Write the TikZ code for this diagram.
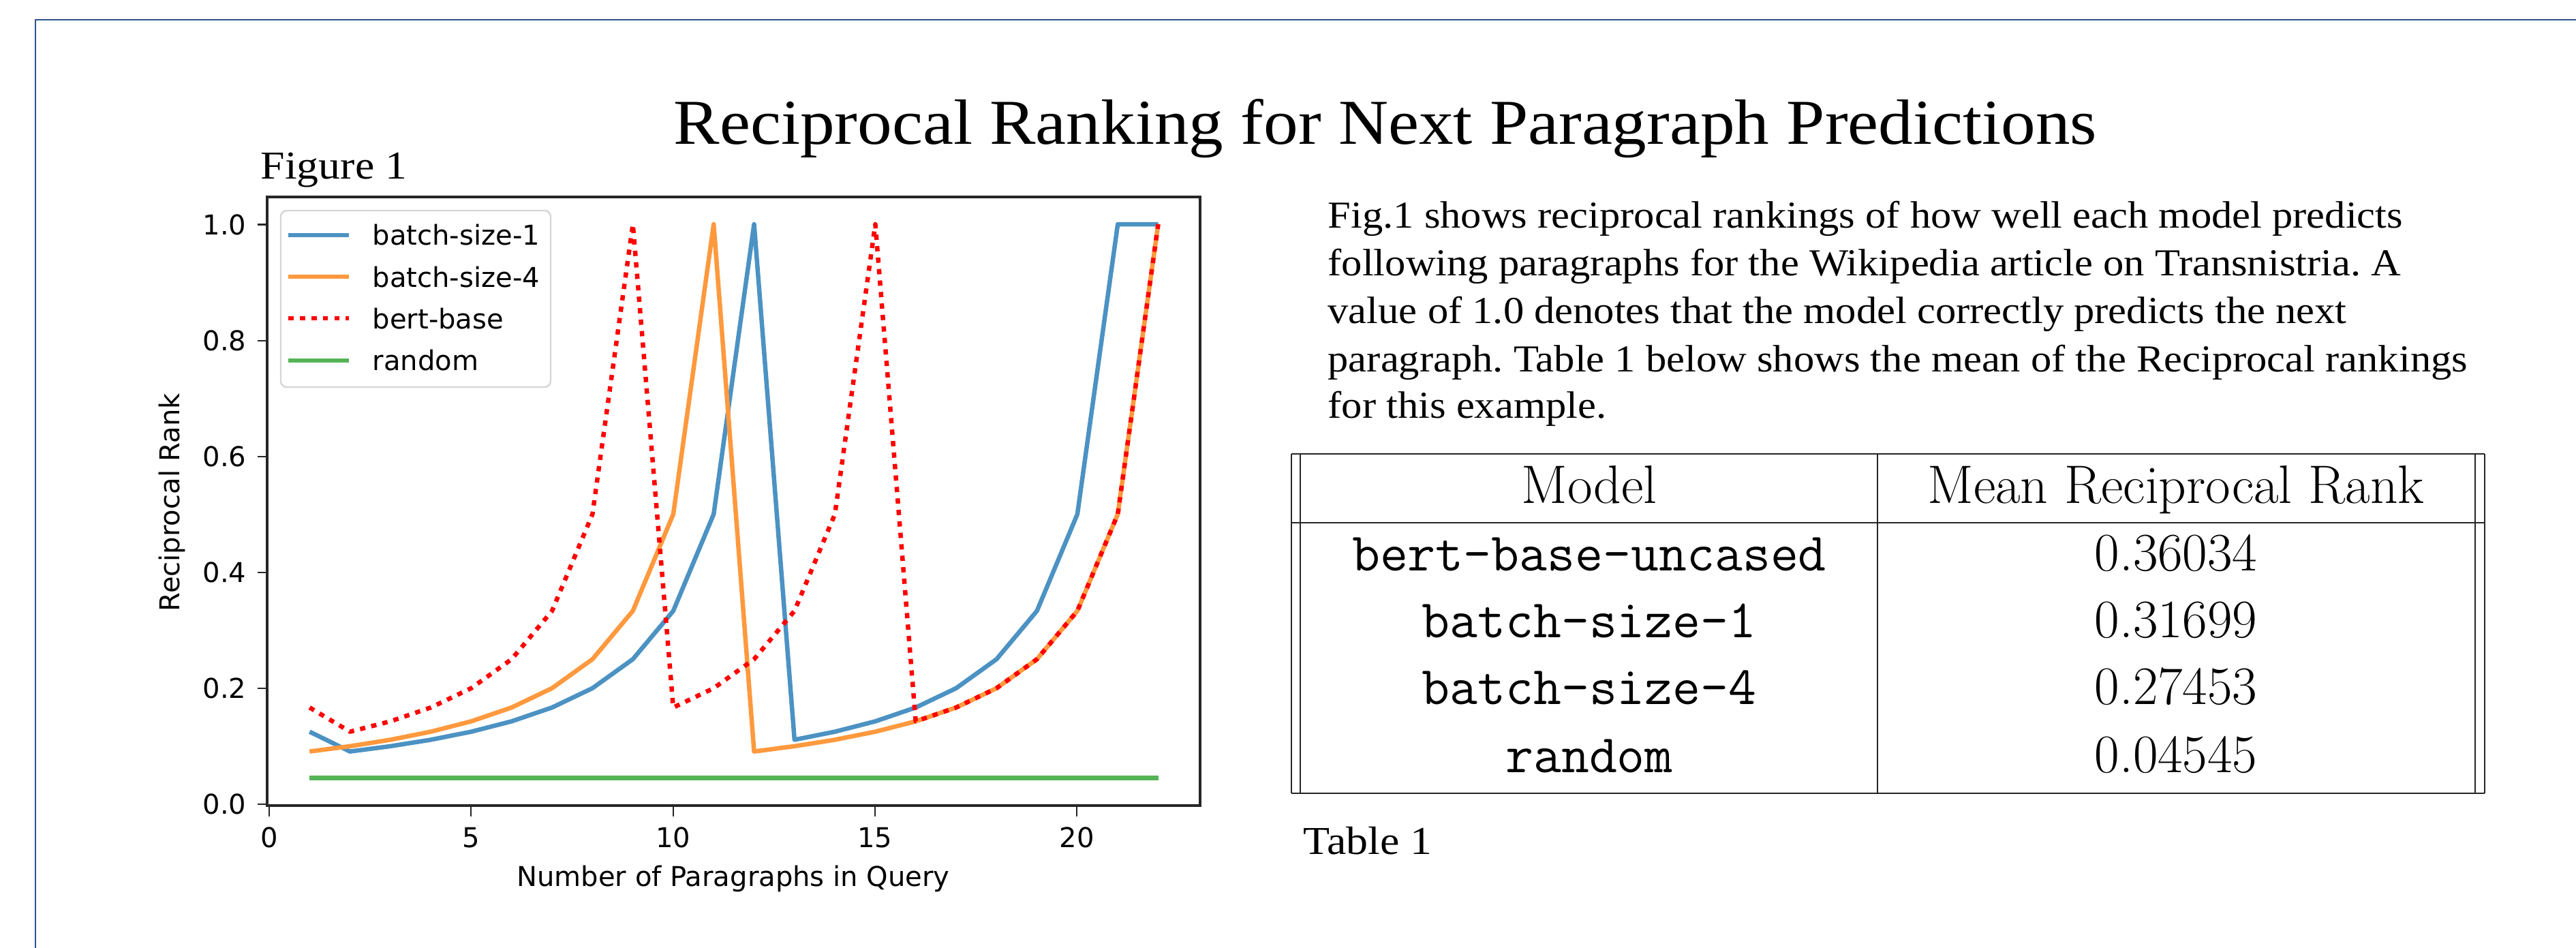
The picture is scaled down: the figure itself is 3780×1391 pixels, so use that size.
\documentclass[tikz,border=0pt]{standalone}
\usepackage{fontspec}
\newfontfamily\cam[FakeStretch=1.1]{Liberation Serif}
\newfontfamily\camb[FakeStretch=1.083]{Liberation Serif}
\newfontfamily\camt[FakeStretch=1.078]{Liberation Serif}
\newfontfamily\dv{DejaVu Sans}
\definecolor{framecol}{HTML}{2F528F}
\definecolor{bluec}{HTML}{4C92C3}
\definecolor{orangec}{HTML}{FF993E}
\definecolor{greenc}{HTML}{56B356}
\definecolor{spine}{HTML}{262626}
\definecolor{legedge}{HTML}{D6D6D6}
\tikzset{
  titlefont/.style={font=\camt\fontsize{26.7}{32}\selectfont, anchor=base west, inner sep=0pt},
  bodyline/.style={font=\camb\frenchspacing\fontsize{15.9}{19}\selectfont, anchor=base west, inner sep=0pt},
  captext/.style={font=\cam\fontsize{16.5}{20}\selectfont, anchor=base west, inner sep=0pt},
  tabrm/.style={font=\fontsize{22.6}{27}\selectfont, anchor=base, inner sep=0pt},
  tabtt/.style={font=\ttfamily\fontsize{22.6}{27}\selectfont, anchor=base, inner sep=0pt},
  mpl/.style={font=\dv\fontsize{11.4}{13.7}\selectfont, inner sep=0pt},
  tabline/.style={draw=black!85, line width=0.6pt},
  series/.style={line width=1.85pt, line join=round},
  dottedred/.style={draw=red, line width=1.85pt, dash pattern=on 2.2pt off 2.6pt, line join=round},
}
\begin{document}
\begin{tikzpicture}[x=0.01cm,y=-0.01cm]
\useasboundingbox (0,0) rectangle (3780,1391);
\fill[white] (0,0) rectangle (3780,1391);
% outer frame (open to right and bottom)
\draw[framecol, line width=0.7pt] (52,1400) -- (52,29) -- (3790,29);

% title
\node[titlefont] (title) at (988,212) {Reciprocal Ranking for Next Paragraph Predictions};
\node[captext] (fig1) at (382,263) {Figure 1};

% paragraph
\node[bodyline] (p1) at (1948,335) {Fig.1 shows reciprocal rankings of how well each model predicts};
\node[bodyline] (p2) at (1948,405) {following paragraphs for the Wikipedia article on Transnistria. A};
\node[bodyline] (p3) at (1948,475) {value of 1.0 denotes that the model correctly predicts the next};
\node[bodyline] (p4) at (1948,545) {paragraph. Table 1 below shows the mean of the Reciprocal rankings};
\node[bodyline] (p5) at (1948,613) {for this example.};

% table
\draw[tabline, line width=0.8pt] (1895,666) -- (3646,666);
\draw[tabline, line width=0.8pt] (1895,767) -- (3646,767);
\draw[tabline] (1895,1164) -- (3646,1164);
\draw[tabline] (1895,666) -- (1895,1164);
\draw[tabline] (1908,666) -- (1908,1164);
\draw[tabline] (2755,666) -- (2755,1164);
\draw[tabline] (3632,666) -- (3632,1164);
\draw[tabline] (3646,666) -- (3646,1164);
\node[tabrm] (hmodel) at (2332,738) {Model};
\node[tabrm] (hmrr) at (3193,738) {Mean Reciprocal Rank};
\node[tabtt] (m1) at (2332,837) {bert-base-uncased};
\node[tabtt] (m2) at (2332,935) {batch-size-1};
\node[tabtt] (m3) at (2332,1033) {batch-size-4};
\node[tabtt] (m4) at (2332,1133) {random};
\node[tabrm] (v1) at (3193,837) {0.36034};
\node[tabrm] (v2) at (3193,935) {0.31699};
\node[tabrm] (v3) at (3193,1033) {0.27453};
\node[tabrm] (v4) at (3193,1133) {0.04545};
\node[captext] (tab1) at (1912,1253) {Table 1};

% ---------- plot ----------
% ticks and tick labels
\foreach \v in {0.0,0.2,0.4,0.6,0.8,1.0}{
  \draw[spine, line width=0.6pt] (378,{1180-850.5*\v}) -- (392,{1180-850.5*\v});
  \node[mpl, anchor=east] at (362,{1180-850.5*\v}) {\v};
}
\foreach \t in {0,5,10,15,20}{
  \draw[spine, line width=0.6pt] ({395+59.26*\t},1182) -- ({395+59.26*\t},1198);
  \node[mpl, anchor=base] at ({395+59.26*\t},1243) {\t};
}
\node[mpl, rotate=90, anchor=center] (ylab) at (252,737) {Reciprocal Rank};
\node[mpl, anchor=base] (xlab) at (1076,1300) {Number of Paragraphs in Query};

\begin{scope}[shift={(395,1180)}, x=0.5926cm, y=8.505cm]
  \draw[series, bluec] (1,0.125) -- (2,0.0909) -- (3,0.1) -- (4,0.1111) -- (5,0.125) -- (6,0.1429) -- (7,0.1667) -- (8,0.2) -- (9,0.25) -- (10,0.3333) -- (11,0.5) -- (12,1) -- (13,0.1111) -- (14,0.125) -- (15,0.1429) -- (16,0.1667) -- (17,0.2) -- (18,0.25) -- (19,0.3333) -- (20,0.5) -- (21,1) -- (22,1);
  \draw[series, orangec] (1,0.0909) -- (2,0.1) -- (3,0.1111) -- (4,0.125) -- (5,0.1429) -- (6,0.1667) -- (7,0.2) -- (8,0.25) -- (9,0.3333) -- (10,0.5) -- (11,1) -- (12,0.0909) -- (13,0.1) -- (14,0.1111) -- (15,0.125) -- (16,0.1429) -- (17,0.1667) -- (18,0.2) -- (19,0.25) -- (20,0.3333) -- (21,0.5) -- (22,1);
  \draw[dottedred] (1,0.1667) -- (2,0.125) -- (3,0.1429) -- (4,0.1667) -- (5,0.2) -- (6,0.25) -- (7,0.3333) -- (8,0.5) -- (9,1) -- (10,0.1667) -- (11,0.2) -- (12,0.25) -- (13,0.3333) -- (14,0.5) -- (15,1) -- (16,0.1429) -- (17,0.1667) -- (18,0.2) -- (19,0.25) -- (20,0.3333) -- (21,0.5) -- (22,1);
  \draw[series, greenc] (1,0.04545) -- (22,0.04545);
\end{scope}

% spines
\draw[spine, line width=1pt] (392,289) rectangle (1761,1182);

% legend
\draw[legedge, line width=0.7pt, fill=white, rounded corners=2.5pt] (412,309) rectangle (808,568);
\draw[series, bluec] (423,345) -- (512,345);
\draw[series, orangec] (423,406) -- (512,406);
\draw[dottedred] (423,467) -- (512,467);
\draw[series, greenc] (423,529) -- (512,529);
\node[mpl, anchor=base west] (l1) at (546,360) {batch-size-1};
\node[mpl, anchor=base west] (l2) at (546,421) {batch-size-4};
\node[mpl, anchor=base west] (l3) at (546,482) {bert-base};
\node[mpl, anchor=base west] (l4) at (546,544) {random};
\end{tikzpicture}
\end{document}
